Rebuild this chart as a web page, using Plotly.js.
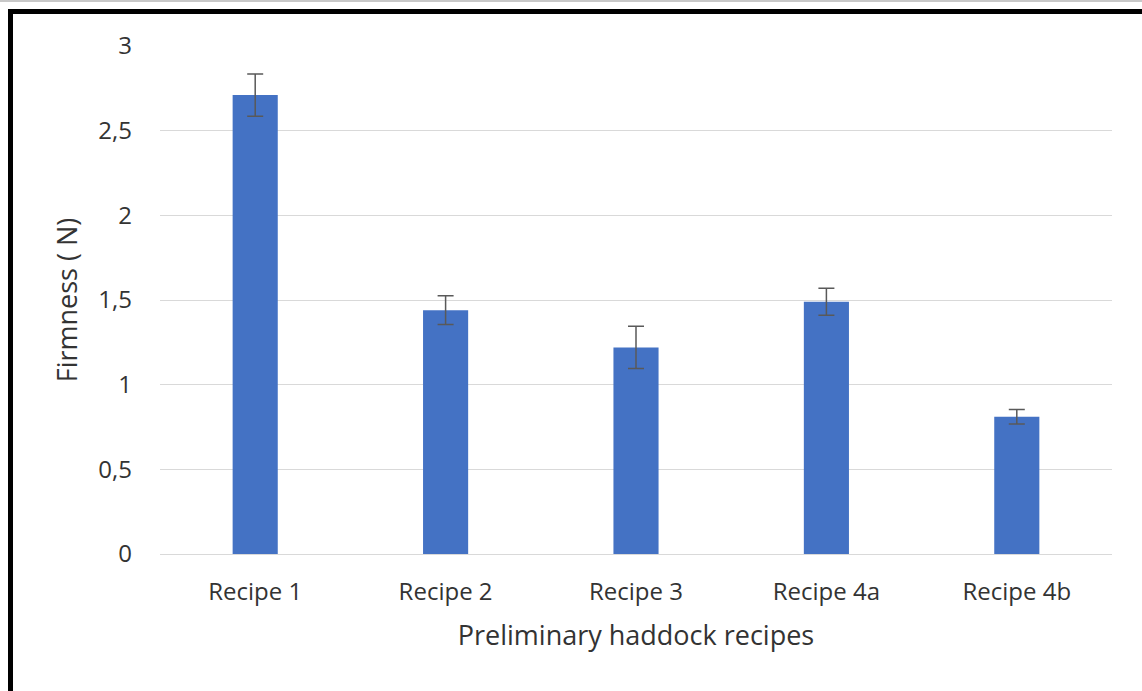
<!DOCTYPE html>
<html>
<head>
<meta charset="utf-8">
<script src="https://cdn.plot.ly/plotly-3.0.1.min.js"></script>
<style>
html,body{margin:0;padding:0;background:#fff;}
#wrap{position:relative;width:1142px;height:691px;overflow:hidden;}
#chart{position:absolute;left:0;top:0;width:1142px;height:691px;}
#frame{position:absolute;left:8px;top:9px;width:1200px;height:800px;border-top:5px solid #000;border-left:5px solid #000;pointer-events:none;}
#topline{position:absolute;left:0;top:0;width:1142px;height:2px;background:#c8c8c8;}
</style>
</head>
<body>
<div id="wrap">
<div id="chart"></div>
<div id="topline"></div>
<div id="frame"></div>
</div>
<script>
const categories = ["Recipe 1", "Recipe 2", "Recipe 3", "Recipe 4a", "Recipe 4b"];
const firmness = [2.71, 1.44, 1.22, 1.49, 0.81];
const firmnessError = [0.125, 0.085, 0.125, 0.08, 0.043];

const fontFam = "'Open Sans', 'Liberation Sans', sans-serif";

const trace = {
  type: 'bar',
  x: categories,
  y: firmness,
  marker: {color: '#4472C4'},
  error_y: {type: 'data', array: firmnessError, visible: true, color: '#595959', thickness: 1.5, width: 8},
  hoverinfo: 'none'
};

const layout = {
  width: 1142, height: 691,
  margin: {l: 160, r: 30, t: 46, b: 137},
  paper_bgcolor: '#fff', plot_bgcolor: '#fff',
  separators: ',.',
  bargap: 0.763,
  showlegend: false,
  font: {family: fontFam, size: 20, color: '#333333'},
  xaxis: {
    showgrid: false, showline: true, linecolor: '#d9d9d9', linewidth: 1,
    ticks: '', ticklabelstandoff: 16,
    tickfont: {size: 24, color: '#333333'},
    title: {text: 'Preliminary haddock recipes', font: {size: 27, color: '#333333'}, standoff: 20}
  },
  yaxis: {
    range: [0, 3], dtick: 0.5, tick0: 0,
    showgrid: true, gridcolor: '#d9d9d9', gridwidth: 1,
    zeroline: false, showline: false, ticks: '', ticklabelstandoff: 27,
    tickfont: {size: 24, color: '#333333'},
    title: {text: 'Firmness ( N)', font: {size: 27, color: '#333333'}, standoff: 12}
  }
};

Plotly.newPlot('chart', [trace], layout, {displayModeBar: false, staticPlot: true});
</script>
</body>
</html>
